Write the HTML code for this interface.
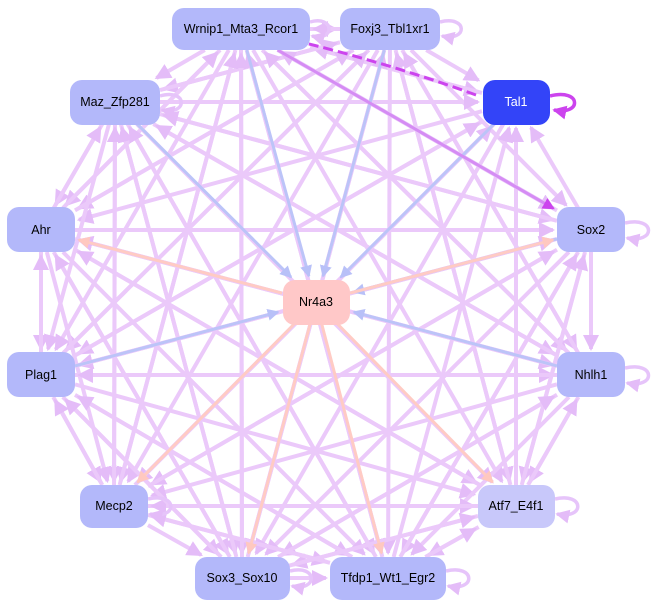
<!DOCTYPE html>
<html><head><meta charset="utf-8"><style>
html,body{margin:0;padding:0;background:#fff;width:656px;height:608px;overflow:hidden}
svg{display:block}
text{font-family:"Liberation Sans",sans-serif;font-size:12.5px;text-anchor:middle;dominant-baseline:central}
</style></head><body>
<svg id="g" width="656" height="608" viewBox="0 0 656 608">
<defs>
<marker id="ap" markerWidth="4" markerHeight="4" refX="3.5" refY="2" orient="auto" markerUnits="strokeWidth"><path d="M0,0L4,2L0,4z" fill="#e4bcf8"/></marker>
<marker id="ab" markerWidth="4" markerHeight="4" refX="3.5" refY="2" orient="auto" markerUnits="strokeWidth"><path d="M0,0L4,2L0,4z" fill="#b8c0f8"/></marker>
<marker id="as" markerWidth="4" markerHeight="4" refX="3.5" refY="2" orient="auto" markerUnits="strokeWidth"><path d="M0,0L4,2L0,4z" fill="#ffc8c0"/></marker>
<marker id="am" markerWidth="4" markerHeight="4" refX="3.5" refY="2" orient="auto" markerUnits="strokeWidth"><path d="M0,0L4,2L0,4z" fill="#cc44ee"/></marker>
</defs>
<g id="edges"></g>
<g id="loops" fill="none" stroke-width="3.5">
<path d="M310,22 C335,15 335,42 312,36" stroke="#e6c4fa" marker-end="url(#ap)"/>
<path d="M440,22 C468,15 468,42 442,36" stroke="#e6c4fa" marker-end="url(#ap)"/>
<path d="M550,96 C582,88 582,116 554,110" stroke="#cc44ee" marker-end="url(#am)"/>
<path d="M625,223 C656,216 656,244 627,238" stroke="#e6c4fa" marker-end="url(#ap)"/>
<path d="M625,368 C656,361 656,389 627,383" stroke="#e6c4fa" marker-end="url(#ap)"/>
<path d="M555,499 C585,492 585,520 557,514" stroke="#e6c4fa" marker-end="url(#ap)"/>
<path d="M148,499 C178,492 178,520 150,514" stroke="#e6c4fa" marker-end="url(#ap)"/>
<path d="M290,571 C318,564 318,592 292,586" stroke="#e6c4fa" marker-end="url(#ap)"/>
<path d="M446,571 C476,564 476,592 448,586" stroke="#e6c4fa" marker-end="url(#ap)"/>
<path d="M160,96 C188,88 188,116 162,110" stroke="#e6c4fa" marker-end="url(#ap)"/>
<path d="M476,95 Q380,60 272,35" stroke="#cc44ee" stroke-width="3" stroke-dasharray="10,5"/>
</g>
<g id="nodes">
<rect x="172" y="8" width="138" height="42" rx="12" fill="#b3b8fa"/><text x="241" y="29">Wrnip1_Mta3_Rcor1</text>
<rect x="340" y="8" width="100" height="42" rx="12" fill="#b3b8fa"/><text x="390" y="29">Foxj3_Tbl1xr1</text>
<rect x="483" y="80" width="67" height="45" rx="12" fill="#3344f8"/><text x="516" y="102" fill="#fff">Tal1</text>
<rect x="70" y="80" width="90" height="45" rx="12" fill="#b3b8fa"/><text x="115" y="102">Maz_Zfp281</text>
<rect x="7" y="207" width="68" height="45" rx="12" fill="#b3b8fa"/><text x="41" y="230">Ahr</text>
<rect x="557" y="207" width="68" height="45" rx="12" fill="#b3b8fa"/><text x="591" y="230">Sox2</text>
<rect x="283" y="280" width="67" height="45" rx="12" fill="#ffc8c8"/><text x="316" y="302">Nr4a3</text>
<rect x="7" y="352" width="68" height="45" rx="12" fill="#b3b8fa"/><text x="41" y="375">Plag1</text>
<rect x="557" y="352" width="68" height="45" rx="12" fill="#b3b8fa"/><text x="591" y="375">Nhlh1</text>
<rect x="80" y="485" width="68" height="43" rx="12" fill="#b3b8fa"/><text x="114" y="506">Mecp2</text>
<rect x="478" y="485" width="77" height="43" rx="12" fill="#c8c8fa"/><text x="516" y="506">Atf7_E4f1</text>
<rect x="195" y="557" width="95" height="43" rx="12" fill="#b3b8fa"/><text x="242" y="578">Sox3_Sox10</text>
<rect x="330" y="557" width="116" height="43" rx="12" fill="#b3b8fa"/><text x="388" y="578">Tfdp1_Wt1_Egr2</text>
</g>
</svg>
<script>
var N={W:[241,29,69,21],F:[390,29,50,21],T:[516,102,34,22],M:[115,102,45,22],A:[41,230,34,22],S:[591,230,34,22],P:[41,375,34,22],H:[591,375,34,22],C:[114,506,34,21],E:[516,506,38,21],X:[242,578,47,21],Y:[388,578,58,21],R:[316,302,34,22]};
function clip(a,b){var dx=b[0]-a[0],dy=b[1]-a[1];var t=Math.min(b[2]/Math.abs(dx||1e-6),b[3]/Math.abs(dy||1e-6));return [b[0]-dx*t,b[1]-dy*t];}
var g=document.getElementById('edges'),s='';
function e(a,b,c,m,w){var A=N[a],B=N[b];var p=clip(B,A),q=clip(A,B);var L=Math.hypot(q[0]-p[0],q[1]-p[1]);
q=[q[0]-(q[0]-p[0])*4/L,q[1]-(q[1]-p[1])*4/L];
s+='<line x1="'+p[0]+'" y1="'+p[1]+'" x2="'+q[0]+'" y2="'+q[1]+'" stroke="'+c+'" stroke-width="'+(w||3)+'" marker-end="url(#'+m+')"/>';}
var K=['W','F','T','M','A','S','P','H','C','E','X','Y'];
for(var i=0;i<K.length;i++)for(var j=0;j<K.length;j++){if(i==j)continue;if(K[i]=='T'&&j%2)continue;if((i+j)%3==0&&i>j)continue;e(K[i],K[j],'#ebc9fa','ap',4);}
['W','F','T','M','S','P','H'].forEach(function(k){e(k,'R','#bcc4f8','ab',3);});
['A','C','X','Y','E','S'].forEach(function(k){e('R',k,'#ffcbc4','as',3);});
e('W','S','#d58cf4','am',3);
g.innerHTML=s;
</script>
</body></html>
